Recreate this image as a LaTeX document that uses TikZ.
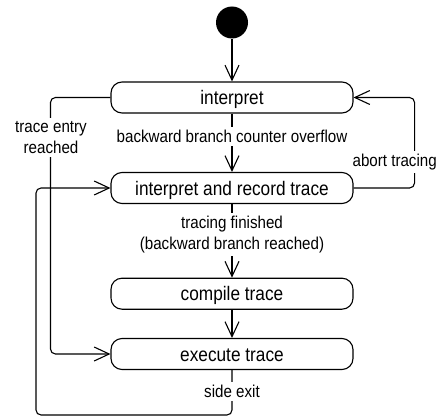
\documentclass[tikz,border=0pt]{standalone}
\usepackage{fontspec}
\setmainfont{Liberation Sans}[FakeStretch=0.88]
\usetikzlibrary{arrows.meta}

\begin{document}
\begin{tikzpicture}[x=1pt,y=-1pt,
  line width=1.1pt,
  state/.style={draw, rounded corners=11pt, minimum width=242pt,
    minimum height=31pt, inner sep=0pt, text height=14pt, text depth=0pt,
    font=\fontsize{19.6}{23}\selectfont},
  lbl/.style={fill=white, inner sep=3pt, align=center,
    font=\fontsize{17.2}{21}\selectfont},
  arr/.style={-{Straight Barb[length=15pt,width=14pt]}},
  flow/.style={rounded corners=5pt}]

\useasboundingbox (0,0) rectangle (439,420);

% initial pseudo-state and the four states
\node[circle, fill=black, minimum size=32pt, inner sep=0pt] (start) at (232,22.5) {};
\node[state] (interp)  at (232,97.5)  {interpret};
\node[state] (record)  at (232,188)   {interpret and record trace};
\node[state] (compile) at (232,293.7) {compile trace};
\node[state] (exec)    at (232,354)   {execute trace};

% corner of the side-exit loop
\coordinate (loopcorner) at (36,415);

% straight transitions down the middle
\draw[arr] (start) -- (interp);
\draw[arr] (interp) -- (record);
\draw[arr] (record) -- (compile);
\draw[arr] (compile) -- (exec);

% loops around the sides
\draw[arr, flow] (record.east) -- ++(61,0) |- (interp.east);
\draw[arr, flow] (interp.west) -- ++(-60,0) |- (exec.west);
\draw[arr, flow] (exec.south) |- (loopcorner) |- (record.west);

% transition labels
\node[lbl, anchor=base] (lcounter) at (232,142.7) {backward branch counter overflow};
\node[lbl] (lentry) at (51,137.5) {trace entry\\reached};
\node[lbl] (lfinished) at (232,234.2) {tracing finished\\(backward branch reached)};
\node[lbl, anchor=base] (labort) at (394.7,166.7) {abort tracing};
\node[lbl, anchor=base] (lexit) at (232,397.7) {side exit};
\end{tikzpicture}
\end{document}
